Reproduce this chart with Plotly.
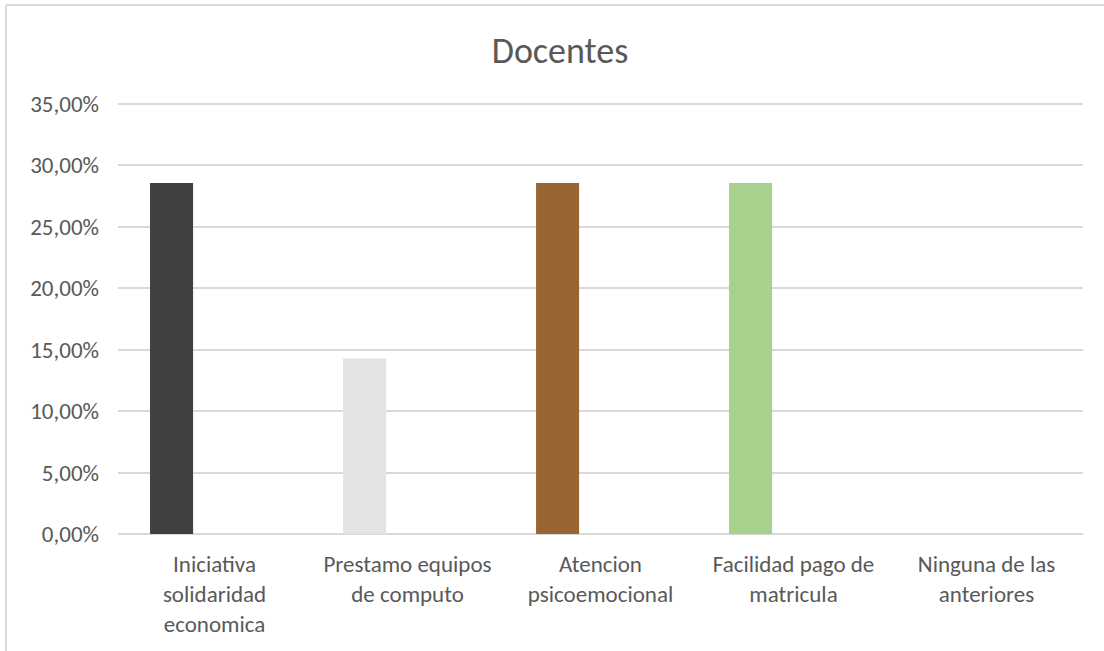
import plotly.graph_objects as go

categories = [
    "Iniciativa<br>solidaridad<br>economica",
    "Prestamo equipos<br>de computo",
    "Atencion<br>psicoemocional",
    "Facilidad pago de<br>matricula",
    "Ninguna de las<br>anteriores",
]
values = [0.2857, 0.1429, 0.2857, 0.2857, 0.0]
bar_colors = ["#404040", "#E3E3E3", "#996633", "#A9D18E", "#5B9BD5"]
y_ticks = [0, 0.05, 0.10, 0.15, 0.20, 0.25, 0.30, 0.35]

W, H = 1104, 651
L, R, T, B = 118, 21, 100, 117
pw, ph = W - L - R, H - T - B
Y_MAX = 0.35 * ph / 430.0

def px_x(px):
    return (px - L) / pw

def px_y(py):
    return (H - B - py) / ph

FONT = "Carlito, Calibri, Lato, sans-serif"
TXT = "#595959"

fig = go.Figure(
    go.Bar(
        x=categories,
        y=values,
        marker=dict(color=bar_colors, line=dict(width=0)),
        width=0.223,
        offset=-0.334,
        hoverinfo="x+y",
    )
)

fig.update_layout(
    width=W,
    height=H,
    margin=dict(l=L, r=R, t=T, b=B, autoexpand=False),
    paper_bgcolor="white",
    plot_bgcolor="white",
    separators=",.",
    showlegend=False,
    title=dict(
        text="Docentes",
        font=dict(family=FONT, size=36, color=TXT),
        x=560 / W,
        xanchor="center",
        xref="container",
        y=1 - 50 / H,
        yanchor="middle",
        yref="container",
    ),
    xaxis=dict(
        type="category",
        showgrid=False,
        showline=False,
        ticks="",
        tickfont=dict(family=FONT, size=23, color=TXT),
        ticklabelstandoff=14,
    ),
    yaxis=dict(
        range=[0, Y_MAX],
        tickvals=y_ticks,
        tickformat=".2%",
        showgrid=True,
        gridcolor="#D9D9D9",
        gridwidth=1.5,
        zeroline=True,
        zerolinecolor="#D9D9D9",
        zerolinewidth=1.5,
        showline=False,
        ticks="",
        tickfont=dict(family=FONT, size=23, color=TXT),
        ticklabelstandoff=18,
    ),
    shapes=[
        dict(type="line", xref="paper", yref="paper",
             x0=px_x(6), x1=px_x(1120), y0=px_y(5), y1=px_y(5),
             line=dict(color="#D9D9D9", width=2)),
        dict(type="line", xref="paper", yref="paper",
             x0=px_x(6), x1=px_x(6), y0=px_y(5), y1=px_y(660),
             line=dict(color="#D9D9D9", width=2)),
    ],
)

fig.write_html(
    "out.html",
    config={"displayModeBar": False},
    post_script="document.body.style.margin='0';",
)
